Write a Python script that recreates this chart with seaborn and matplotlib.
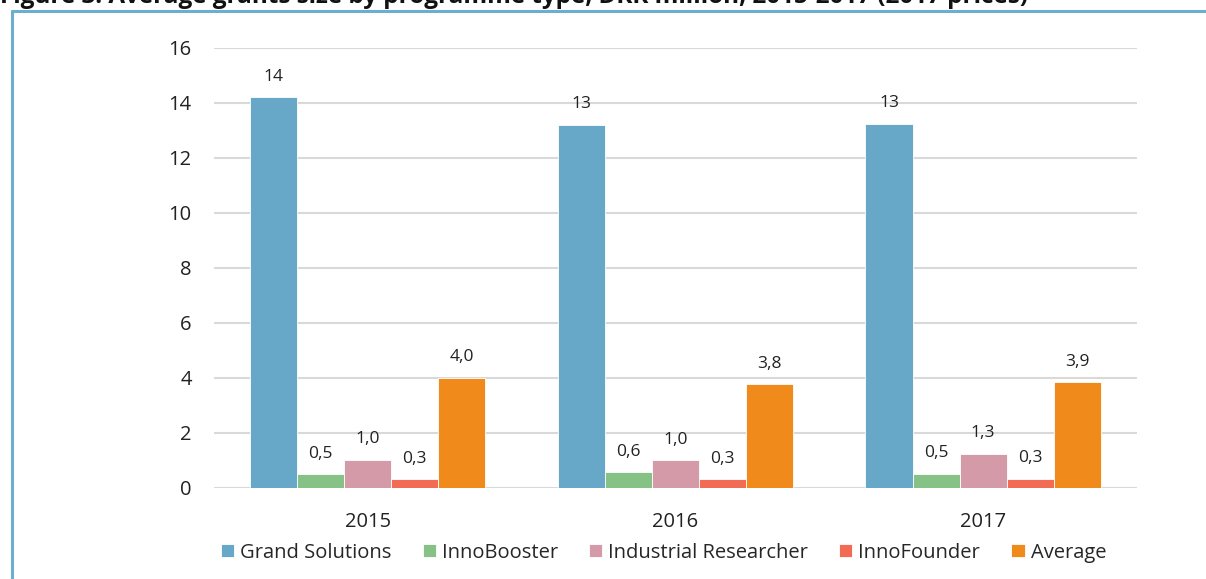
import matplotlib
matplotlib.use("Agg")
import matplotlib.pyplot as plt
from matplotlib.lines import Line2D
import pandas as pd
import seaborn as sns

years = ["2015", "2016", "2017"]
programmes = ["Grand Solutions", "InnoBooster", "Industrial Researcher", "InnoFounder", "Average"]
grand_solutions = [14.2, 13.2, 13.25]
innobooster = [0.5, 0.58, 0.52]
industrial_researcher = [1.02, 1.0, 1.25]
innofounder = [0.32, 0.32, 0.33]
average = [4.0, 3.77, 3.85]
bar_labels = [
    ["14", "13", "13"],
    ["0,5", "0,6", "0,5"],
    ["1,0", "1,0", "1,3"],
    ["0,3", "0,3", "0,3"],
    ["4,0", "3,8", "3,9"],
]
colors = ["#67A8C9", "#86C286", "#D49AA8", "#F26B55", "#F08A1A"]

series = [grand_solutions, innobooster, industrial_researcher, innofounder, average]
rows = []
for prog, vals in zip(programmes, series):
    for yr, v in zip(years, vals):
        rows.append({"year": yr, "programme": prog, "value": v})
df = pd.DataFrame(rows)

sns.set_theme(style="white")
plt.rcParams["font.family"] = ["Open Sans", "DejaVu Sans"]

fig = plt.figure(figsize=(12.06, 5.79), dpi=100)
ax = fig.add_axes([0.1774, 0.1572, 0.7654, 0.7599])

sns.barplot(data=df, x="year", y="value", hue="programme", hue_order=programmes,
            palette=colors, saturation=1, width=0.765, edgecolor="white",
            linewidth=0.6, errorbar=None, ax=ax)

for cont, labs in zip(ax.containers, bar_labels):
    ax.bar_label(cont, labels=labs, padding=9, fontsize=12.5, color="#222222")

ax.set_ylim(0, 16)
ax.set_xlim(-0.5, 2.5)
ax.set_yticks(range(0, 17, 2))
ax.yaxis.grid(True, color="#D9D9D9", linewidth=1.5)
ax.set_axisbelow(True)
for s in ax.spines.values():
    s.set_visible(False)
ax.set_xlabel("")
ax.set_ylabel("")
ax.tick_params(axis="y", length=0, pad=16, labelsize=14.5, labelcolor="#222222")
ax.tick_params(axis="x", length=0, pad=17, labelsize=14.5, labelcolor="#222222")

ax.legend(loc="center", bbox_to_anchor=(0.487, -0.147), ncol=5, frameon=False,
          fontsize=14.5, handlelength=0.65, handleheight=0.65, handletextpad=0.3,
          columnspacing=1.55)

# frame of the figure box, cut at the right and bottom
fig.add_artist(Line2D([12 / 1206, 12 / 1206], [0, 1 - 11 / 579], color="#6BAED0", linewidth=2.2))
fig.add_artist(Line2D([12 / 1206, 1], [1 - 11 / 579, 1 - 11 / 579], color="#6BAED0", linewidth=2.2))

fig.text(0.0, 1 - 3 / 579, "Figure 3: Average grants size by programme type, DKK million, 2015-2017 (2017 prices)",
         fontsize=17.5, fontweight="bold", va="baseline", ha="left", color="#111111")

fig.savefig("out.png", dpi=100)
